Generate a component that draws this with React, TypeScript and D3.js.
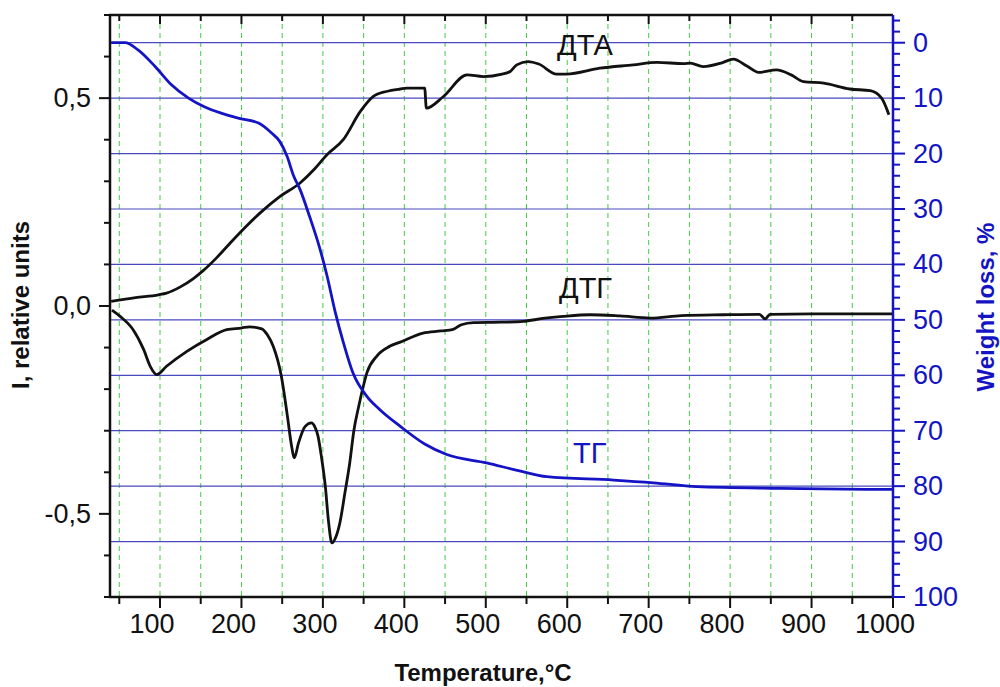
import React from "react";
import * as d3 from "d3";

// Temperature (°C) and signal values for each thermal analysis curve
const dtaTemp = [40, 70, 98, 108, 125, 141, 153, 170, 186, 205, 223, 247, 272, 290, 305, 325, 346, 362, 378, 395, 403, 425, 427, 448, 477, 497, 520, 530, 538, 552, 565, 587, 599, 640, 681, 710, 743, 751, 767, 790, 804, 820, 835, 857, 875, 890, 915, 947, 972, 986, 995];
const dtaValue = [0.011, 0.02, 0.027, 0.031, 0.046, 0.066, 0.085, 0.117, 0.151, 0.19, 0.224, 0.263, 0.296, 0.33, 0.364, 0.4, 0.468, 0.504, 0.516, 0.522, 0.524, 0.524, 0.476, 0.504, 0.556, 0.552, 0.558, 0.564, 0.58, 0.588, 0.582, 0.558, 0.558, 0.572, 0.58, 0.586, 0.583, 0.584, 0.576, 0.585, 0.594, 0.578, 0.562, 0.568, 0.556, 0.54, 0.536, 0.522, 0.518, 0.5, 0.46];

const dtgTemp = [41, 51, 67, 80, 88, 96, 108, 133, 157, 182, 200, 210, 225, 232, 239, 249, 257, 261, 265, 270, 278, 286, 290, 294, 298, 303, 307, 311, 316, 321, 327, 333, 338, 344, 350, 354, 366, 382, 395, 423, 445, 460, 470, 485, 520, 546, 570, 595, 628, 665, 702, 740, 792, 836, 843, 849, 900, 1000];
const dtgValue = [-0.01, -0.025, -0.057, -0.105, -0.145, -0.165, -0.145, -0.109, -0.081, -0.057, -0.053, -0.05, -0.055, -0.07, -0.097, -0.169, -0.273, -0.33, -0.365, -0.33, -0.29, -0.281, -0.29, -0.313, -0.36, -0.434, -0.52, -0.57, -0.555, -0.52, -0.45, -0.377, -0.3, -0.241, -0.19, -0.161, -0.121, -0.097, -0.087, -0.065, -0.06, -0.056, -0.045, -0.04, -0.039, -0.037, -0.03, -0.025, -0.021, -0.024, -0.029, -0.023, -0.021, -0.02, -0.031, -0.02, -0.019, -0.019];

const tgTemp = [40, 57, 73, 94, 114, 135, 155, 175, 196, 221, 237, 247, 256, 264, 272, 284, 296, 305, 315, 325, 337, 354, 370, 395, 425, 452, 501, 540, 575, 657, 706, 759, 861, 1000];
const tgLoss = [0, 0, 1.3, 4.3, 7.6, 10, 11.6, 12.7, 13.6, 14.5, 16.3, 17.8, 20.5, 24, 26.5, 31.5, 37, 42, 48.5, 54, 59.6, 63.8, 66.2, 69.2, 72.4, 74.3, 75.8, 77.2, 78.3, 78.9, 79.4, 80.1, 80.4, 80.6];

const xMajorTicks = [100, 200, 300, 400, 500, 600, 700, 800, 900, 1000];
const leftLabels = [-0.5, 0, 0.5];
const rightLabels = [0, 10, 20, 30, 40, 50, 60, 70, 80, 90, 100];

const BLUE = "#1414c4";
const GRID_BLUE = "#4a4ac0";
const GREEN = "#44cc44";
const FONT = "'Liberation Sans', Arial, sans-serif";

const left = 110;
const right = 893;
const top = 15;
const bottom = 597;

export default function App() {
  const x = d3.scaleLinear().domain([38.6, 1000]).range([left, right]);
  const yL = d3.scaleLinear().domain([-0.7, 0.7]).range([bottom, top]);
  const yR = d3.scaleLinear().domain([-5, 100]).range([top, bottom]);

  const line = d3
    .line<[number, number]>()
    .x((d) => x(d[0]))
    .curve(d3.curveMonotoneX);

  const dtaPath = line.y((d) => yL(d[1]))(dtaTemp.map((t, i) => [t, dtaValue[i]]));
  const dtgPath = line.y((d) => yL(d[1]))(dtgTemp.map((t, i) => [t, dtgValue[i]]));
  const tgPath = line.y((d) => yR(d[1]))(tgTemp.map((t, i) => [t, tgLoss[i]]));

  const xAll = d3.range(50, 1000, 50);
  const leftMinor = d3.range(-7, 8).map((k) => k / 10);
  const rightMinor = d3.range(-4, 101, 2);
  const hGrid = d3.range(0, 100, 10);

  return (
    <svg width={1000} height={687} style={{ display: "block", position: "absolute", left: 0, top: 0 }}>
      <rect width={1000} height={687} fill="#fff" />

      {/* vertical dashed grid */}
      {xAll.map((t) => (
        <line key={"vg" + t} x1={x(t)} x2={x(t)} y1={top} y2={bottom} stroke={GREEN} strokeWidth={1} strokeDasharray="5,4" />
      ))}
      {/* horizontal grid aligned with weight-loss scale */}
      {hGrid.map((w) => (
        <line key={"hg" + w} x1={left} x2={right} y1={yR(w)} y2={yR(w)} stroke={GRID_BLUE} strokeWidth={1.2} />
      ))}

      {/* curves */}
      <path d={dtaPath!} fill="none" stroke="#111" strokeWidth={2.8} strokeLinejoin="round" />
      <path d={dtgPath!} fill="none" stroke="#111" strokeWidth={2.8} strokeLinejoin="round" />
      <path d={tgPath!} fill="none" stroke={BLUE} strokeWidth={2.8} strokeLinejoin="round" />

      {/* frame: left, bottom, top */}
      <line x1={left} x2={left} y1={top} y2={bottom + 1} stroke="#111" strokeWidth={2.5} />
      <line x1={left - 1} x2={right} y1={bottom} y2={bottom} stroke="#111" strokeWidth={2.5} />
      <line x1={left - 1} x2={right} y1={top} y2={top} stroke="#111" strokeWidth={2.5} />

      {/* x ticks */}
      {xAll.concat([1000]).map((t) => {
        const major = t % 100 === 0;
        return (
          <g key={"xt" + t}>
            <line x1={x(t)} x2={x(t)} y1={bottom} y2={bottom + (major ? 11 : 7)} stroke="#111" strokeWidth={2} />
            <line x1={x(t)} x2={x(t)} y1={top} y2={top + (major ? 9 : 6)} stroke="#111" strokeWidth={2} />
          </g>
        );
      })}
      {xMajorTicks.map((t) => (
        <text key={"xl" + t} x={x(t) - 8} y={633} textAnchor="middle" fontFamily={FONT} fontSize={27} fill="#111">
          {t}
        </text>
      ))}

      {/* left ticks */}
      {leftMinor.map((v) => {
        const major = Math.abs((v * 10) % 5) < 1e-6;
        return <line key={"lt" + v} x1={left - (major ? 11 : 6)} x2={left} y1={yL(v)} y2={yL(v)} stroke="#111" strokeWidth={2} />;
      })}
      {leftLabels.map((v) => (
        <text key={"ll" + v} x={91} y={yL(v) + 9} textAnchor="end" fontFamily={FONT} fontSize={27} fill="#111">
          {d3.format(".1f")(v).replace(".", ",").replace("−", "-")}
        </text>
      ))}

      {/* right axis */}
      <line x1={right} x2={right} y1={top} y2={bottom + 1} stroke={BLUE} strokeWidth={2.5} />
      {rightMinor.map((w) => {
        const major = w % 10 === 0;
        return <line key={"rt" + w} x1={right} x2={right + (major ? 12 : 7)} y1={yR(w)} y2={yR(w)} stroke={BLUE} strokeWidth={2} />;
      })}
      {rightLabels.map((w) => (
        <text key={"rl" + w} x={913} y={yR(w) + 9} textAnchor="start" fontFamily={FONT} fontSize={27} fill={BLUE}>
          {w}
        </text>
      ))}

      {/* curve names */}
      <text x={557} y={55} fontFamily={FONT} fontSize={29} fill="#111">ДТА</text>
      <text x={559} y={298} fontFamily={FONT} fontSize={29} fill="#111">ДТГ</text>
      <text x={573} y={463} fontFamily={FONT} fontSize={29} fill={BLUE}>ТГ</text>

      {/* axis titles */}
      <text x={483} y={681} textAnchor="middle" fontFamily={FONT} fontSize={24} fontWeight="bold" fill="#111">
        Temperature,°C
      </text>
      <text transform="translate(29,305) rotate(-90)" textAnchor="middle" fontFamily={FONT} fontSize={24} fontWeight="bold" fill="#111">
        I, relative units
      </text>
      <text transform="translate(994,307) rotate(-90)" textAnchor="middle" fontFamily={FONT} fontSize={24} fontWeight="bold" fill={BLUE}>
        Weight loss, %
      </text>
    </svg>
  );
}
